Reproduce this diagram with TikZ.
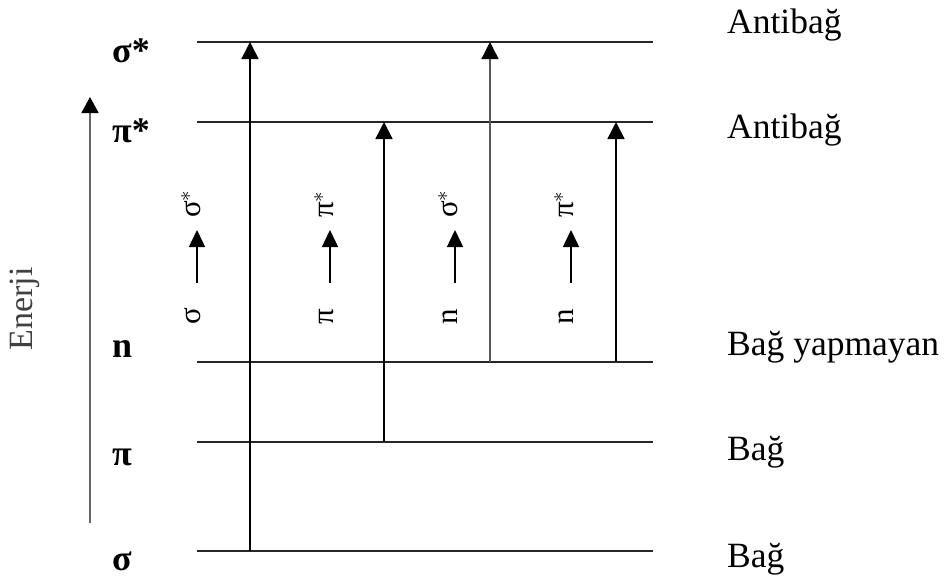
\documentclass[tikz,border=0pt]{standalone}
\usepackage{fontspec}
\setmainfont{Liberation Serif}
\usetikzlibrary{arrows.meta}
\begin{document}
\begin{tikzpicture}[x=1pt,y=-1pt,
  level/.style={line width=1.6pt,black!85},
  jump/.style={line width=1.6pt,-{Triangle[length=17pt,width=17pt,color=black]}},
  minijump/.style={line width=1.5pt,-{Triangle[length=17pt,width=16pt]}},
  axis/.style={line width=1.8pt,black!60,-{Triangle[length=16pt,width=17pt,color=black]}},
  lvlname/.style={anchor=base west,inner sep=0pt,font=\fontsize{36}{40}\selectfont\bfseries},
  kind/.style={anchor=base west,inner sep=0pt,font=\fontsize{35.5}{40}\selectfont},
  trans/.style={anchor=base west,inner sep=0pt,rotate=90,font=\fontsize{31}{36}\selectfont},
  energy/.style={inner sep=0pt,rotate=90,text=black!75,font=\fontsize{34}{40}\selectfont}]
\useasboundingbox (0,0) rectangle (949,581);

% energy levels
\foreach \nm/\y in {ss/42, ps/122, nn/362, pp/442, sg/551}{
  \coordinate (\nm L) at (197,\y);
  \coordinate (\nm R) at (653,\y);
  \draw[level] (\nm L) -- (\nm R);
}

% transitions between the levels
\coordinate (t1a) at (250,551); \coordinate (t1b) at (250,42);
\coordinate (t2a) at (384,442); \coordinate (t2b) at (384,122);
\coordinate (t3a) at (490,362); \coordinate (t3b) at (490,42);
\coordinate (t4a) at (616,362); \coordinate (t4b) at (616,122);
\draw[jump] (t1a) -- (t1b);
\draw[jump] (t2a) -- (t2b);
\draw[jump,black!65,line width=1.4pt] (t3a) -- (t3b);
\draw[jump] (t4a) -- (t4b);

% energy axis
\coordinate (e0) at (90,523);
\coordinate (e1) at (90,97);
\draw[axis] (e0) -- (e1);
\node[energy] (en) at (25,309) {Enerji};

% level names on the left
\node[lvlname] (l1) at (112,62) {σ*};
\node[lvlname] (l2) at (112,142) {π*};
\node[lvlname] (l3) at (112,357) {n};
\node[lvlname] (l4) at (112,465) {π};
\node[lvlname] (l5) at (112,570) {σ};

% orbital character on the right
\node[kind] (k1) at (727,33) {Antibağ};
\node[kind] (k2) at (727,138) {Antibağ};
\node[kind] (k3) at (727,355) {Bağ yapmayan};
\node[kind] (k4) at (727,460) {Bağ};
\node[kind] (k5) at (727,567) {Bağ};

% rotated transition labels
\foreach \i/\bx/\ax/\lo/\hi in {1/200/197/σ/σ, 2/333/330/π/π, 3/457/455/n/σ, 4/573/571/n/π}{
  \node[trans] (lo\i) at (\bx,325) {\lo};
  \node[trans] (hi\i) at (\bx,218) {\hi$^{*}$};
  \coordinate (ma\i) at (\ax,283);
  \coordinate (mb\i) at (\ax,230);
  \draw[minijump] (ma\i) -- (mb\i);
}
\end{tikzpicture}
\end{document}
